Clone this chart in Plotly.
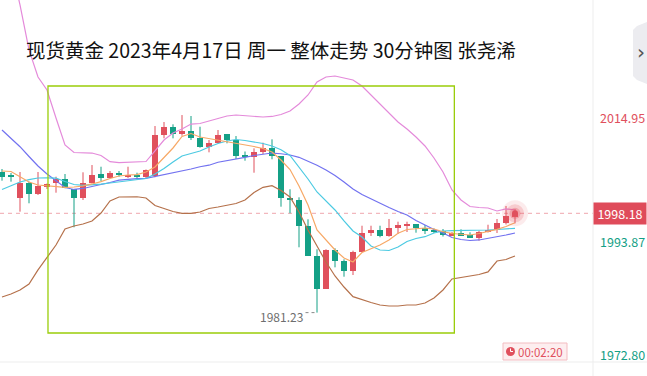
import plotly.graph_objects as go

# ---------------- data (30-minute candles, left to right) ----------------
opens = [2005.28, 2004.50, 2000.85, 2003.30, 2001.48, 2002.67, 2003.30, 2003.99, 2002.28, 2000.85,
         2003.30, 2004.89, 2004.26, 2004.97, 2004.38, 2004.63, 2004.33, 2004.55, 2011.54, 2012.96,
         2011.66, 2012.23, 2011.08, 2009.55, 2010.23, 2011.72, 2010.69, 2008.01, 2007.84, 2008.69,
         2009.27, 2007.96, 2000.85, 2000.45, 1996.01, 1990.94, 1985.26, 1991.92, 1990.04, 1988.38,
         1991.52, 1994.87, 1995.33, 1994.36, 1995.73, 1996.18, 1996.35, 1995.73, 1995.24, 1995.21,
         1994.36, 1994.77, 1994.48, 1994.05, 1994.94, 1995.33, 1996.47, 1997.55]
highs = [2005.74, 2005.06, 2005.23, 2003.58, 2005.23, 2003.27, 2004.43, 2004.89, 2002.28, 2005.18,
         2006.42, 2006.13, 2005.40, 2005.40, 2006.13, 2005.11, 2005.66, 2013.08, 2013.76, 2013.37,
         2014.95, 2014.79, 2012.96, 2010.69, 2012.40, 2011.72, 2011.37, 2008.73, 2009.27, 2010.23,
         2010.81, 2007.96, 2002.28, 2000.91, 1997.16, 1992.04, 1992.04, 1992.21, 1990.33, 1991.80,
         1996.06, 1996.06, 1996.06, 1997.21, 1996.75, 1996.75, 1996.35, 1996.18, 1995.59, 1995.50,
         1994.99, 1995.45, 1994.94, 1995.21, 1996.23, 1997.21, 1999.43, 1998.91]
lows = [2003.75, 2003.58, 1998.46, 1999.89, 2001.31, 2002.33, 2001.70, 2002.45, 1995.79, 2000.45,
        2003.30, 2003.70, 2004.26, 2004.43, 2004.21, 2003.99, 2004.12, 2004.33, 2010.98, 2010.98,
        2011.42, 2010.69, 2009.38, 2008.59, 2010.13, 2010.13, 2007.45, 2007.16, 2005.11, 2008.30,
        2007.40, 1999.31, 1998.18, 1992.38, 1990.94, 1981.23, 1985.26, 1988.96, 1987.36, 1987.65,
        1991.52, 1994.31, 1994.09, 1994.19, 1994.65, 1994.99, 1994.87, 1994.65, 1994.82, 1994.22,
        1994.31, 1994.31, 1994.05, 1993.51, 1994.90, 1994.82, 1996.27, 1996.47]
closes = [2004.43, 2004.38, 2003.30, 2001.43, 2002.84, 2003.19, 2003.99, 2002.45, 2000.85, 2003.30,
          2004.72, 2004.26, 2005.01, 2004.80, 2004.63, 2004.46, 2005.57, 2011.54, 2012.96, 2011.72,
          2012.23, 2011.08, 2009.55, 2010.23, 2011.54, 2010.69, 2008.01, 2007.84, 2008.59, 2009.27,
          2008.01, 2000.85, 2000.57, 1996.06, 1990.94, 1985.26, 1991.92, 1990.09, 1988.38, 1991.52,
          1994.77, 1995.33, 1994.31, 1995.62, 1996.18, 1996.30, 1995.62, 1995.21, 1995.11, 1994.43,
          1994.90, 1994.43, 1994.05, 1994.94, 1995.33, 1996.52, 1997.72, 1998.18]

# indicator lines (one value per candle)
boll_upper = [2048.20, 2040.60, 2033.74, 2026.06, 2021.45, 2019.23, 2014.45, 2009.84, 2008.56, 2008.56,
              2008.47, 2008.05, 2006.99, 2006.82, 2006.85, 2006.94, 2007.02, 2008.82, 2010.69, 2011.89,
              2012.57, 2013.42, 2013.51, 2013.94, 2014.36, 2014.79, 2014.96, 2014.88, 2014.79, 2014.62,
              2014.71, 2015.05, 2015.65, 2016.84, 2018.38, 2020.60, 2021.45, 2021.62, 2021.28, 2020.94,
              2019.91, 2018.38, 2017.01, 2015.47, 2013.77, 2012.57, 2011.21, 2009.67, 2007.62, 2005.23,
              2002.16, 2000.45, 1999.34, 1999.17, 1999.09, 1998.58, 1998.92, 1998.75]
boll_lower = [1983.90, 1984.41, 1985.09, 1986.12, 1988.51, 1990.55, 1992.77, 1995.50, 1996.02, 1996.36,
              1996.87, 1998.23, 2000.28, 2000.96, 2001.01, 2001.01, 2000.79, 1999.52, 1999.00, 1998.49,
              1998.18, 1998.18, 1998.40, 1999.00, 1999.26, 1999.52, 1999.86, 2000.45, 2001.73, 2002.62,
              2002.89, 2002.08, 2000.96, 1998.40, 1995.33, 1992.60, 1989.87, 1987.48, 1985.60, 1983.95,
              1983.39, 1982.96, 1982.53, 1982.36, 1982.36, 1982.53, 1982.53, 1982.87, 1983.73, 1985.09,
              1986.97, 1987.23, 1987.48, 1987.74, 1988.17, 1990.04, 1990.30, 1990.89]
ma_blue = [2012.40, 2010.95, 2009.55, 2007.88, 2006.26, 2004.89, 2003.70, 2002.59, 2002.25, 2002.42,
           2002.76, 2003.07, 2003.44, 2003.83, 2003.99, 2004.09, 2004.16, 2004.46, 2004.75, 2005.06,
           2005.40, 2005.74, 2006.13, 2006.39, 2006.89, 2007.14, 2007.40, 2007.74, 2008.05, 2008.30,
           2008.47, 2008.35, 2008.13, 2007.74, 2007.11, 2006.38, 2005.57, 2004.64, 2003.53, 2002.33,
           2001.39, 2000.62, 1999.89, 1999.17, 1998.49, 1997.89, 1996.96, 1996.18, 1995.42, 1994.82,
           1994.05, 1993.71, 1993.54, 1993.63, 1993.88, 1994.19, 1994.48, 1994.82]
ma_cyan = [2002.25, 2002.93, 2003.53, 2003.92, 2004.21, 2004.24, 2004.17, 2003.61, 2003.10, 2002.96,
           2003.01, 2003.15, 2003.35, 2003.56, 2003.78, 2003.99, 2004.12, 2004.89, 2005.83, 2006.94,
           2007.96, 2008.39, 2008.81, 2009.50, 2010.09, 2010.52, 2010.78, 2010.61, 2010.35, 2010.09,
           2009.67, 2009.04, 2008.05, 2006.09, 2004.04, 2001.82, 2000.28, 1998.75, 1996.87, 1995.16,
           1994.14, 1992.60, 1991.92, 1991.83, 1992.43, 1993.37, 1993.88, 1994.19, 1994.82, 1995.16,
           1995.21, 1995.21, 1995.21, 1995.21, 1995.33, 1995.42, 1995.50, 1995.62]
ma_orange = [2005.40, 2005.32, 2004.43, 2003.53, 2003.01, 2002.88, 2002.71, 2002.62, 2002.67, 2002.84,
             2003.19, 2003.58, 2004.12, 2004.55, 2004.72, 2004.80, 2005.23, 2006.09, 2007.71, 2009.33,
             2011.29, 2011.80, 2011.20, 2010.95, 2010.69, 2010.44, 2010.18, 2009.92, 2009.58, 2009.24,
             2008.65, 2007.28, 2005.66, 2002.84, 1999.60, 1995.33, 1993.63, 1991.92, 1990.55, 1989.87,
             1991.49, 1992.09, 1992.77, 1993.63, 1994.77, 1995.42, 1995.54, 1995.67, 1995.50, 1995.04,
             1994.73, 1994.56, 1994.48, 1994.73, 1995.08, 1995.45, 1995.93, 1996.58]

title_text = "现货黄金 2023年4月17日 周一 整体走势 30分钟图 张尧浠"
last_price = 1998.18
low_price = 1981.23
axis_label_values = [2014.95, 1993.87, 1972.80]
axis_label_kinds = ["up", "down", "down"]
timer_text = "00:02:20"

# ---------------- style ----------------
RED = "#E0505D"
GREEN = "#14A086"
W, H = 647, 376
PLOT_W, PLOT_H = 593, 362
Y_MIN, Y_MAX = 1972.80, 2034.59
X_MIN, X_MAX = -2 / 9, 591 / 9
# highlight rectangle drawn on the chart (candle index / price extents)
BOX = dict(x0=5.11, x1=50.26, y0=1977.75, y1=2019.91)


def px(x):
    return x / PLOT_W


def py(y):
    return (PLOT_H - y) / PLOT_H


idx = list(range(len(opens)))
fig = go.Figure()

# candle bodies and wicks
for is_up, color in ((True, RED), (False, GREEN)):
    sel = [i for i in idx if (closes[i] > opens[i]) == is_up]
    base = [min(opens[i], closes[i]) for i in sel]
    hgt = [max(abs(closes[i] - opens[i]), 0.18) for i in sel]
    fig.add_trace(go.Bar(x=sel, y=hgt, base=base, width=0.63, marker_color=color,
                         marker_line_width=0, hoverinfo="skip", showlegend=False))
    wx, wy = [], []
    for i in sel:
        wx += [i, i, None]
        wy += [lows[i], highs[i], None]
    fig.add_trace(go.Scatter(x=wx, y=wy, mode="lines", line=dict(color=color, width=1),
                             hoverinfo="skip", showlegend=False))

# indicator lines
for series, color in ((boll_upper, "#E48ADA"), (boll_lower, "#B5714B"), (ma_blue, "#7272F0"),
                      (ma_cyan, "#4CCAE2"), (ma_orange, "#F7A866")):
    fig.add_trace(go.Scatter(x=idx, y=series, mode="lines", line=dict(color=color, width=1.2),
                             hoverinfo="skip", showlegend=False, cliponaxis=True))

# glow on the last price
last_i = idx[-1]
for size, col in ((26, "rgba(230,90,100,0.12)"), (18, "rgba(230,90,100,0.22)"),
                  (11, "rgba(230,90,100,0.35)"), (6, RED)):
    fig.add_trace(go.Scatter(x=[last_i], y=[last_price], mode="markers",
                             marker=dict(size=size, color=col, line=dict(width=0)),
                             hoverinfo="skip", showlegend=False))

shapes = []
# current price dashed line
shapes.append(dict(type="line", xref="paper", yref="y", x0=0, x1=1, y0=last_price, y1=last_price,
                   line=dict(color="#EFA5AD", width=1, dash="4px,4px"), layer="below"))
# highlight rectangle
shapes.append(dict(type="rect", xref="x", yref="y", **BOX,
                   line=dict(color="#9ACD0A", width=1.3)))
# axis separators
shapes.append(dict(type="line", xref="paper", yref="paper", x0=1, x1=1, y0=py(376), y1=1,
                   line=dict(color="#EDEDED", width=1)))
shapes.append(dict(type="line", xref="paper", yref="paper", x0=0, x1=px(W), y0=py(PLOT_H), y1=py(PLOT_H),
                   line=dict(color="#EDEDED", width=1)))
# low leader (dotted)
shapes.append(dict(type="line", xref="x", yref="y", x0=35 - 11.5 / 9, x1=35 - 0.15,
                   y0=low_price, y1=low_price, line=dict(color="#8A8A8A", width=1, dash="dot")))
# right-top tab
tab = (f"M {px(647)} {py(22)} L {px(637)} {py(26)} L {px(633)} {py(30)} L {px(633)} {py(76)} "
       f"L {px(637)} {py(80)} L {px(647)} {py(84)} Z")
shapes.append(dict(type="path", xref="paper", yref="paper", path=tab,
                   fillcolor="#ECECF0", line=dict(width=0)))
# timer box
shapes.append(dict(type="rect", xref="paper", yref="paper", x0=px(503), x1=px(567), y0=py(360), y1=py(343),
                   fillcolor="#FDEEEF", line=dict(color="#F3BCC1", width=1)))
shapes.append(dict(type="circle", xref="paper", yref="paper", x0=px(506), x1=px(515), y0=py(356), y1=py(347),
                   fillcolor=RED, line=dict(width=0)))
shapes.append(dict(type="line", xref="paper", yref="paper", x0=px(510.5), x1=px(510.5), y0=py(351.5), y1=py(348.5),
                   line=dict(color="white", width=1)))
shapes.append(dict(type="line", xref="paper", yref="paper", x0=px(510.5), x1=px(513), y0=py(351.5), y1=py(351.5),
                   line=dict(color="white", width=1)))

annotations = []
annotations.append(dict(text=title_text, xref="paper", yref="paper", x=px(24), y=py(50),
                        xanchor="left", yanchor="middle", showarrow=False,
                        font=dict(family="Noto Sans CJK SC", size=19.5, color="#111111")))
label_font = "Noto Sans CJK SC"
for v, kind in zip(axis_label_values, axis_label_kinds):
    shift = {2014.95: -2, 1993.87: -2.5, 1972.80: 8}.get(v, 0)
    annotations.append(dict(text=f"{v:.2f}", xref="paper", yref="y", x=1, y=v, xanchor="left",
                            yanchor="middle", xshift=5, yshift=shift, showarrow=False,
                            font=dict(family=label_font, size=12.5, color=RED if kind == "up" else GREEN)))
annotations.append(dict(text=f"{last_price:.2f}", xref="paper", yref="y", x=1, y=last_price,
                        xanchor="left", yanchor="middle", showarrow=False, bgcolor="#DF4B5A",
                        width=50, borderpad=1, align="center",
                        font=dict(family=label_font, size=12.5, color="white")))
annotations.append(dict(text=f"{low_price:.2f}", xref="x", yref="y", x=35, y=low_price,
                        xanchor="right", yanchor="middle", xshift=-12, yshift=-3.5, showarrow=False,
                        font=dict(family=label_font, size=12, color="#6E6E6E")))
annotations.append(dict(text=timer_text, xref="paper", yref="paper", x=px(540), y=py(351.5),
                        xanchor="center", yanchor="middle", showarrow=False,
                        font=dict(family=label_font, size=11.5, color=RED)))
annotations.append(dict(text="›", xref="paper", yref="paper", x=px(641), y=py(52),
                        xanchor="center", yanchor="middle", showarrow=False,
                        font=dict(family="DejaVu Sans", size=20, color="#555555")))

fig.update_layout(
    width=W, height=H,
    margin=dict(l=0, r=W - PLOT_W, t=0, b=H - PLOT_H),
    paper_bgcolor="white", plot_bgcolor="white",
    barmode="overlay", bargap=0,
    showlegend=False,
    xaxis=dict(range=[X_MIN, X_MAX], visible=False, fixedrange=True),
    yaxis=dict(range=[Y_MIN, Y_MAX], visible=False, fixedrange=True),
    shapes=shapes, annotations=annotations,
)

fig.write_html("out.html", config={"displayModeBar": False},
               post_script="document.body.style.margin='0';document.body.style.overflow='hidden';")
